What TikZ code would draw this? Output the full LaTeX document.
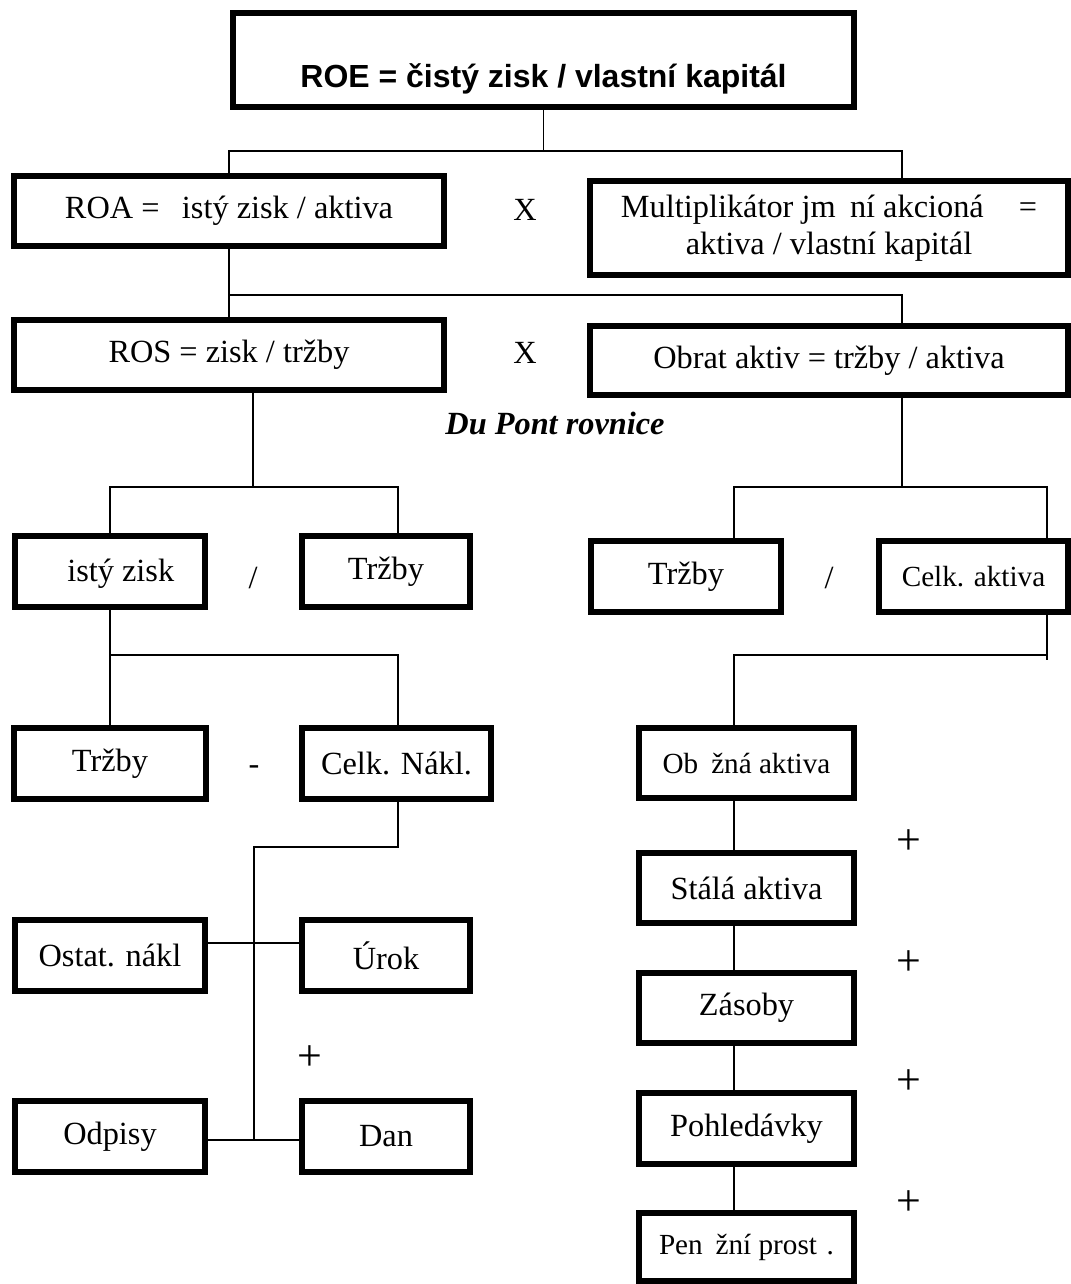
\documentclass[tikz,border=0pt]{standalone}
\usepackage{fontspec}
\setmainfont{Liberation Serif}
\setsansfont{Liberation Sans}
\usetikzlibrary{calc}

\tikzset{
  box/.style={draw, line width=3.5pt, inner sep=0pt, font=\fontsize{18.4pt}{21pt}\selectfont},
  smallbox/.style={box, font=\fontsize{16.6pt}{19pt}\selectfont},
  conn/.style={line width=1pt},
  sign/.style={draw=none, inner sep=0pt, font=\fontsize{18.4pt}{21pt}\selectfont},
  plus/.style={sign, font=\fontsize{25pt}{28pt}\selectfont},
}

\begin{document}
\begin{tikzpicture}
                    \useasboundingbox (0,0) rectangle (21.42,-25.68);
                    % boxes
                    \node[box, minimum width=12.43cm, minimum height=1.89cm, text height=1.10cm, text depth=0cm,
                          font=\sffamily\bfseries\fontsize{18.2pt}{21pt}\selectfont] (roe) at (10.87,-1.20) {ROE = čistý zisk / vlastní kapitál};
                    \node[box, minimum width=8.61cm, minimum height=1.41cm] (roa) at (4.58,-4.22) {ROA = \phantom{č}istý zisk / aktiva};
                    \node[box, minimum width=9.57cm, minimum height=1.89cm, align=center] (mult) at (16.58,-4.56) {Multiplikátor jm\phantom{ě}ní akcioná\phantom{řů} =\\aktiva / vlastní kapitál};
                    \node[box, minimum width=8.61cm, minimum height=1.41cm] (ros) at (4.58,-7.10) {ROS = zisk / tržby};
                    \node[box, minimum width=9.57cm, minimum height=1.39cm] (obrat) at (16.58,-7.21) {Obrat aktiv = tržby / aktiva};
                    \node[box, minimum width=3.81cm, minimum height=1.43cm] (zisk) at (2.20,-11.43) {\phantom{Č}istý zisk};
                    \node[box, minimum width=3.37cm, minimum height=1.43cm] (trzby) at (7.72,-11.43) {Tržby};
                    \node[box, minimum width=3.81cm, minimum height=1.43cm] (trzbyB) at (13.72,-11.53) {Tržby};
                    \node[smallbox, minimum width=3.79cm, minimum height=1.43cm] (aktiva) at (19.47,-11.53) {Celk. aktiva};
                    \node[box, minimum width=3.83cm, minimum height=1.43cm] (trzbyC) at (2.20,-15.27) {Tržby};
                    \node[box, minimum width=3.79cm, minimum height=1.43cm] (naklady) at (7.93,-15.27) {Celk. Nákl.};
                    \node[box, minimum width=3.81cm, minimum height=1.43cm] (ostat) at (2.20,-19.11) {Ostat. nákl};
                    \node[box, minimum width=3.37cm, minimum height=1.43cm] (urok) at (7.72,-19.11) {Úrok};
                    \node[box, minimum width=3.81cm, minimum height=1.43cm] (odpisy) at (2.20,-22.73) {Odpisy};
                    \node[box, minimum width=3.37cm, minimum height=1.43cm] (dan) at (7.72,-22.73) {Dan};
                    \node[smallbox, minimum width=4.31cm, minimum height=1.41cm] (obezna) at (14.93,-15.26) {Ob\phantom{ě}žná aktiva};
                    \node[box, minimum width=4.31cm, minimum height=1.41cm] (stala) at (14.93,-17.76) {Stálá aktiva};
                    \node[box, minimum width=4.31cm, minimum height=1.41cm] (zasoby) at (14.93,-20.16) {Zásoby};
                    \node[box, minimum width=4.31cm, minimum height=1.41cm] (pohl) at (14.93,-22.57) {Pohledávky};
                    \node[smallbox, minimum width=4.31cm, minimum height=1.35cm] (penez) at (14.93,-24.94) {Pen\phantom{ě}žní prost\phantom{ř}.};
                    % signs
                    \node[sign] (x1) at (10.50,-4.20) {X};
                    \node[sign] (x2) at (10.50,-7.06) {X};
                    \node[sign, font=\bfseries\itshape\fontsize{18.4pt}{21pt}\selectfont] (dupont) at (11.10,-8.46) {Du Pont rovnice};
                    \node[sign] (div1) at (5.06,-11.56) {/};
                    \node[sign] (div2) at (16.58,-11.56) {/};
                    \node[sign] (minus) at (5.08,-15.40) {-};
                    \node[plus] (plus1) at (6.20,-21.16) {+};
                    \node[plus] (plus2) at (18.18,-16.84) {+};
                    \node[plus] (plus3) at (18.18,-19.26) {+};
                    \node[plus] (plus4) at (18.18,-21.64) {+};
                    \node[plus] (plus5) at (18.18,-24.06) {+};
                    % bus corners
                    \coordinate (b1l) at (4.58,-3.02);
                    \coordinate (b1r) at (18.04,-3.02);
                    \coordinate (b2r) at (18.04,-5.90);
                    \coordinate (b3) at (5.06,-9.74);
                    \coordinate (b3l) at (2.20,-9.74);
                    \coordinate (b3r) at (7.96,-9.74);
                    \coordinate (b4l) at (14.68,-9.74);
                    \coordinate (b4r) at (20.94,-9.74);
                    \coordinate (b5l) at (2.20,-13.10);
                    \coordinate (b5r) at (7.96,-13.10);
                    \coordinate (b6l) at (14.68,-13.10);
                    \coordinate (b7) at (5.08,-16.94);
                    \coordinate (b9) at (5.08,-18.86);
                    \coordinate (b8) at (5.08,-22.80);
                    % connectors
                    \draw[conn] (roe.south) -- (roe.south |- b1l);
                    \draw[conn] (roa.north) -- (b1l) -- (b1r) -- (b1r |- mult.north);
                    \draw[conn] (roa.south) -- (ros.north);
                    \draw[conn] (roa.south |- b2r) -- (b2r) -- (b2r |- obrat.north);
                    \draw[conn] (b3 |- ros.south) -- (b3);
                    \draw[conn] (zisk.north) -- (b3l) -- (b3r) -- (b3r |- trzby.north);
                    \draw[conn] (b2r |- obrat.south) -- (b2r |- b4l);
                    \draw[conn] (b4l |- trzbyB.north) -- (b4l) -- (b4r) -- (b4r |- aktiva.north);
                    \draw[conn] (zisk.south) -- (trzbyC.north);
                    \draw[conn] (b5l) -- (b5r) -- (b5r |- naklady.north);
                    \draw[conn] (b4r |- aktiva.south) -- ($(b4r |- b6l)+(0,-0.10)$);
                    \draw[conn] (b6l -| b4r) -- (b6l) -- (b6l |- obezna.north);
                    \draw[conn] (b5r |- naklady.south) -- (b5r |- b7) -- (b7) -- (b8);
                    \draw[conn] (b9 -| ostat.east) -- (b9 -| urok.west);
                    \draw[conn] (b8 -| odpisy.east) -- (b8 -| dan.west);
                    \draw[conn] (b4l |- obezna.south) -- (b4l |- stala.north);
                    \draw[conn] (b4l |- stala.south) -- (b4l |- zasoby.north);
                    \draw[conn] (b4l |- zasoby.south) -- (b4l |- pohl.north);
                    \draw[conn] (b4l |- pohl.south) -- (b4l |- penez.north);
                \end{tikzpicture}
\end{document}
